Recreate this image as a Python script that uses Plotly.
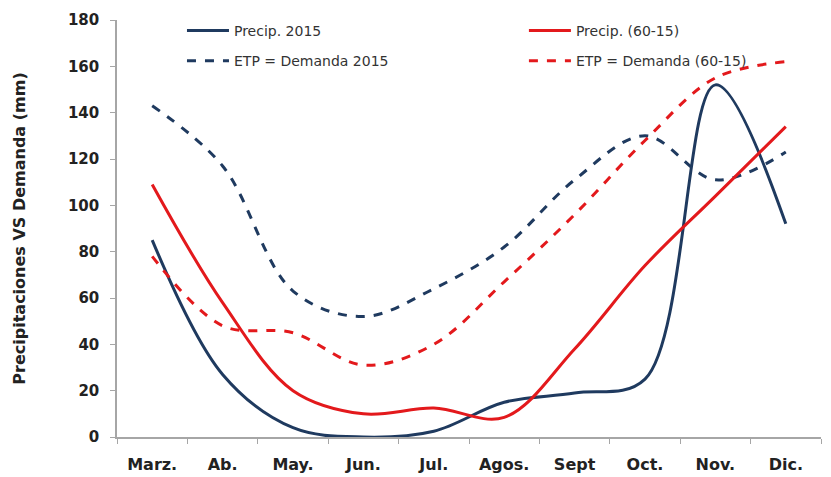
import plotly.graph_objects as go

months = ["Marz.", "Ab.", "May.", "Jun.", "Jul.", "Agos.", "Sept", "Oct.", "Nov.", "Dic."]
precip_2015 = [85, 27, 4, 0, 2.5, 15, 19, 25, 152, 92]
precip_6015 = [109, 58, 20, 10, 12.5, 8.5, 38, 74, 104, 134]
etp_2015 = [143, 117, 63, 52, 64, 82, 111, 130, 111, 123]
etp_6015 = [78, 48, 45, 31, 40, 67, 96, 128, 155, 162]
y_ticks = [0, 20, 40, 60, 80, 100, 120, 140, 160, 180]

NAVY = "#1F3A5F"
RED = "#E3191C"
FONT = "DejaVu Sans"

fig = go.Figure()
series = [
    ("Precip. 2015", precip_2015, NAVY, "solid", "legend", "g1"),
    ("ETP = Demanda 2015", etp_2015, NAVY, "dash", "legend", "g2"),
    ("Precip. (60-15)", precip_6015, RED, "solid", "legend2", "g3"),
    ("ETP = Demanda (60-15)", etp_6015, RED, "dash", "legend2", "g4"),
]
for name, vals, col, dash, leg, grp in series:
    fig.add_trace(go.Scatter(
        x=months, y=vals, name=name, mode="lines",
        line=dict(color=col, width=3, dash=dash, shape="spline", smoothing=1.0),
        legend=leg, legendgroup=grp,
    ))

legend_common = dict(
    bgcolor="rgba(0,0,0,0)", borderwidth=0,
    font=dict(family=FONT, size=14, color="#333333"),
    tracegroupgap=9, xanchor="left", yanchor="top",
    orientation="v", itemwidth=42,
)
fig.update_layout(
    width=831, height=477,
    margin=dict(l=109, r=18, t=12, b=48, autoexpand=False),
    paper_bgcolor="white", plot_bgcolor="white",
    showlegend=True,
    legend=dict(x=0.0923, y=1.012, **legend_common),
    legend2=dict(x=0.578, y=1.012, **legend_common),
    xaxis=dict(
        type="category", tickson="boundaries", ticks="outside", ticklen=5,
        tickcolor="#A6A6A6", showline=True, linecolor="#A6A6A6", linewidth=1.5,
        showgrid=False,
        tickfont=dict(family=FONT, size=16, color="#222222", weight="bold"),
        ticklabelstandoff=12, range=[-0.5, 9.5],
    ),
    yaxis=dict(
        range=[0, 180], tickvals=y_ticks, ticks="outside", ticklen=5,
        tickcolor="#A6A6A6", showline=True, linecolor="#A6A6A6", linewidth=1.5,
        showgrid=False, zeroline=False,
        tickfont=dict(family=FONT, size=15, color="#222222", weight="bold"),
        ticklabelstandoff=8,
        title=dict(text="<b>Precipitaciones VS Demanda (mm)</b>",
                   font=dict(family=FONT, size=16, color="#222222"), standoff=38),
    ),
)
fig.write_html("out.html")
